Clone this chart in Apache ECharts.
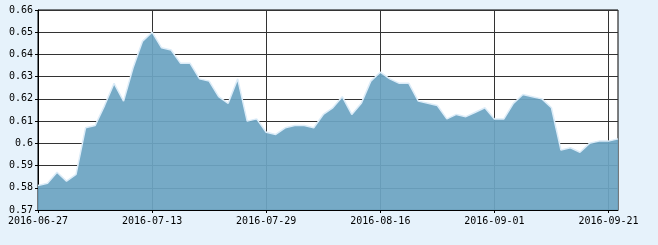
<!DOCTYPE html>
<html>
<head>
<meta charset="utf-8">
<script src="https://cdn.jsdelivr.net/npm/echarts@6/dist/echarts.min.js"></script>
<style>
html,body{margin:0;padding:0;background:#e6f2fb;}
#c{width:658px;height:245px;}
</style>
</head>
<body>
<div id="c"></div>
<script>
const categories = [
  "2016-06-27","2016-06-28","2016-06-29","2016-06-30","2016-07-01",
  "2016-07-04","2016-07-05","2016-07-06","2016-07-07","2016-07-08",
  "2016-07-11","2016-07-12","2016-07-13","2016-07-14","2016-07-15",
  "2016-07-18","2016-07-19","2016-07-20","2016-07-21","2016-07-22",
  "2016-07-25","2016-07-26","2016-07-27","2016-07-28","2016-07-29",
  "2016-08-01","2016-08-02","2016-08-03","2016-08-04","2016-08-05",
  "2016-08-08","2016-08-09","2016-08-10","2016-08-11","2016-08-12",
  "2016-08-15","2016-08-16","2016-08-17","2016-08-18","2016-08-19",
  "2016-08-22","2016-08-23","2016-08-24","2016-08-25","2016-08-26",
  "2016-08-29","2016-08-30","2016-08-31","2016-09-01","2016-09-02",
  "2016-09-05","2016-09-06","2016-09-07","2016-09-08","2016-09-09",
  "2016-09-12","2016-09-13","2016-09-14",
  "2016-09-19","2016-09-20","2016-09-21","2016-09-22"
];
const values = [
  0.581,0.582,0.587,0.583,0.586,
  0.607,0.608,0.617,0.627,0.619,
  0.634,0.646,0.650,0.643,0.642,
  0.636,0.636,0.629,0.628,0.621,
  0.618,0.629,0.610,0.611,0.605,
  0.604,0.607,0.608,0.608,0.607,
  0.613,0.616,0.621,0.613,0.618,
  0.628,0.632,0.629,0.627,0.627,
  0.619,0.618,0.617,0.611,0.613,
  0.612,0.614,0.616,0.611,0.611,
  0.618,0.622,0.621,0.620,0.616,
  0.597,0.598,0.596,
  0.600,0.601,0.601,0.602
];
const yMin = 0.57, yMax = 0.66, yStep = 0.01;

const chart = echarts.init(document.getElementById('c'));
const font = {fontFamily:'DejaVu Sans Mono', fontSize:10, color:'#000'};
chart.setOption({
  animation:false,
  backgroundColor:'#e6f2fb',
  grid:{left:38,right:40,top:10,bottom:35,show:true,backgroundColor:'#fff',borderColor:'#000',borderWidth:1},
  xAxis:{
    type:'category',data:categories,boundaryGap:false,
    axisLine:{lineStyle:{color:'#000',width:1}},
    axisTick:{interval:11,length:3,lineStyle:{color:'#000'}},
    axisLabel:Object.assign({interval:11,margin:6},font),
    splitLine:{show:true,interval:11,lineStyle:{color:'#333',width:1}}
  },
  yAxis:{
    type:'value',min:yMin,max:yMax,interval:yStep,
    axisLine:{show:true,lineStyle:{color:'#000',width:1}},
    axisTick:{show:true,length:3,lineStyle:{color:'#000'}},
    axisLabel:Object.assign({margin:5,formatter:v=>String(parseFloat(v.toFixed(2)))},font),
    splitLine:{show:true,lineStyle:{color:'#333',width:1}}
  },
  series:[{
    type:'line',data:values,symbol:'none',
    lineStyle:{color:'#dcecf8',width:1.5},
    areaStyle:{color:'rgb(108,164,194)',opacity:0.935}
  }]
});
</script>
</body>
</html>
